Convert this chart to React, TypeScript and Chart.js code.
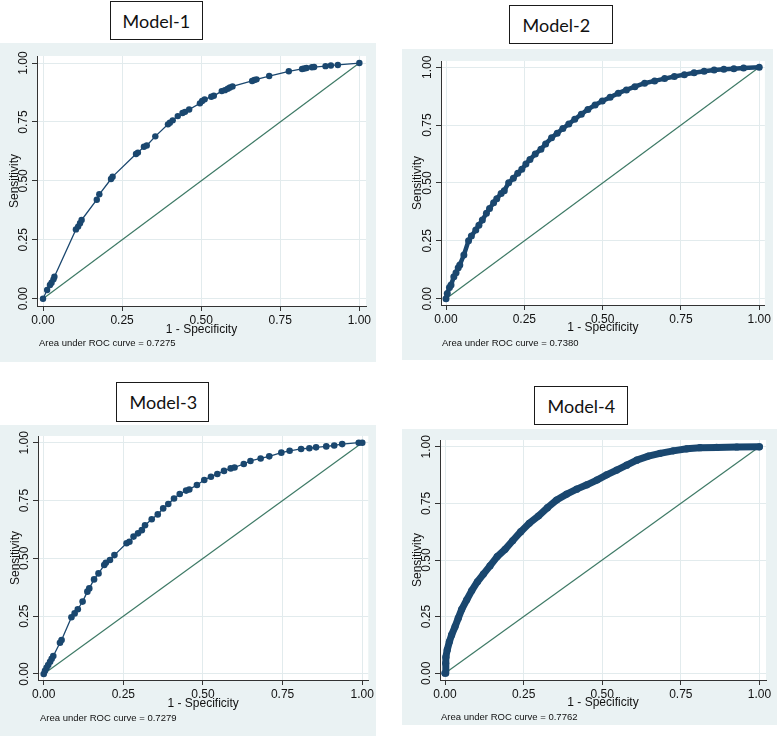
import React, { useEffect, useRef } from "react";
import { Chart, registerables } from "chart.js";
Chart.register(...registerables);

// ---------- data ----------
const TICK_VALUES = [0, 0.25, 0.5, 0.75, 1];
const X_AXIS_TITLE = "1 - Specificity";
const Y_AXIS_TITLE = "Sensitivity";
const MODEL_NAMES = ["Model-1", "Model-2", "Model-3", "Model-4"];
const AUC_VALUES = ["0.7275", "0.7380", "0.7279", "0.7762"];
const DIAG_X = [0, 1];
const DIAG_Y = [0, 1];

const M1_FPR = [0, 0.013, 0.022, 0.027, 0.033, 0.036, 0.104, 0.111, 0.117, 0.122, 0.17, 0.178, 0.215, 0.22, 0.294, 0.3, 0.319, 0.328, 0.355, 0.395, 0.401, 0.41, 0.426, 0.441, 0.449, 0.462, 0.496, 0.503, 0.511, 0.532, 0.54, 0.565, 0.575, 0.584, 0.591, 0.599, 0.661, 0.668, 0.675, 0.715, 0.777, 0.819, 0.826, 0.833, 0.85, 0.857, 0.893, 0.91, 0.932, 1];
const M1_TPR = [0, 0.037, 0.058, 0.068, 0.082, 0.093, 0.294, 0.306, 0.32, 0.334, 0.42, 0.443, 0.508, 0.518, 0.614, 0.62, 0.645, 0.65, 0.689, 0.74, 0.747, 0.757, 0.775, 0.788, 0.793, 0.803, 0.829, 0.839, 0.846, 0.857, 0.861, 0.881, 0.885, 0.891, 0.896, 0.901, 0.924, 0.928, 0.931, 0.945, 0.965, 0.975, 0.977, 0.979, 0.982, 0.983, 0.987, 0.99, 0.992, 1];

const M2_FPR = [0, 0.004, 0.011, 0.016, 0.025, 0.032, 0.039, 0.044, 0.057, 0.072, 0.081, 0.095, 0.105, 0.116, 0.129, 0.139, 0.152, 0.162, 0.176, 0.186, 0.2, 0.215, 0.229, 0.242, 0.255, 0.268, 0.285, 0.303, 0.318, 0.337, 0.355, 0.373, 0.392, 0.411, 0.432, 0.453, 0.476, 0.499, 0.524, 0.55, 0.576, 0.603, 0.634, 0.666, 0.698, 0.729, 0.761, 0.792, 0.824, 0.856, 0.887, 0.919, 0.95, 1];
const M2_TPR = [0, 0.023, 0.049, 0.059, 0.095, 0.112, 0.134, 0.146, 0.189, 0.251, 0.271, 0.297, 0.318, 0.34, 0.369, 0.39, 0.415, 0.432, 0.455, 0.467, 0.501, 0.52, 0.542, 0.559, 0.582, 0.602, 0.625, 0.646, 0.669, 0.695, 0.715, 0.735, 0.755, 0.775, 0.797, 0.818, 0.837, 0.854, 0.87, 0.888, 0.902, 0.916, 0.931, 0.941, 0.951, 0.96, 0.968, 0.976, 0.983, 0.988, 0.991, 0.994, 0.997, 1];

const M3_FPR = [0, 0.004, 0.009, 0.014, 0.02, 0.025, 0.03, 0.051, 0.056, 0.087, 0.097, 0.107, 0.122, 0.137, 0.143, 0.158, 0.172, 0.19, 0.195, 0.208, 0.222, 0.26, 0.269, 0.282, 0.296, 0.308, 0.318, 0.339, 0.358, 0.375, 0.391, 0.409, 0.427, 0.447, 0.457, 0.481, 0.504, 0.525, 0.545, 0.566, 0.587, 0.599, 0.628, 0.649, 0.681, 0.708, 0.746, 0.772, 0.808, 0.834, 0.855, 0.887, 0.912, 0.937, 0.989, 1];
const M3_TPR = [0, 0.014, 0.027, 0.039, 0.053, 0.066, 0.078, 0.135, 0.147, 0.245, 0.262, 0.28, 0.313, 0.356, 0.37, 0.409, 0.435, 0.471, 0.481, 0.493, 0.514, 0.565, 0.572, 0.594, 0.608, 0.622, 0.643, 0.669, 0.69, 0.716, 0.735, 0.759, 0.778, 0.793, 0.798, 0.817, 0.839, 0.853, 0.865, 0.878, 0.889, 0.893, 0.908, 0.921, 0.932, 0.941, 0.957, 0.965, 0.973, 0.976, 0.98, 0.984, 0.988, 0.994, 1, 1];

const M4_FPR = [0, 0.002, 0.003, 0.007, 0.014, 0.021, 0.032, 0.042, 0.053, 0.069, 0.085, 0.103, 0.122, 0.143, 0.166, 0.191, 0.215, 0.241, 0.268, 0.297, 0.326, 0.355, 0.387, 0.419, 0.451, 0.483, 0.514, 0.546, 0.578, 0.61, 0.647, 0.684, 0.726, 0.769, 0.811, 0.864, 0.928, 1];
const M4_TPR = [0, 0.044, 0.071, 0.103, 0.14, 0.169, 0.206, 0.243, 0.282, 0.324, 0.365, 0.404, 0.438, 0.474, 0.515, 0.547, 0.585, 0.625, 0.662, 0.694, 0.731, 0.765, 0.791, 0.813, 0.832, 0.853, 0.876, 0.897, 0.919, 0.941, 0.959, 0.971, 0.982, 0.991, 0.996, 0.997, 0.999, 1];

const SERIES_FPR = [M1_FPR, M2_FPR, M3_FPR, M4_FPR];
const SERIES_TPR = [M1_TPR, M2_TPR, M3_TPR, M4_TPR];

// ---------- styles / layout ----------
const FONT = "'Liberation Sans Narrow', 'Liberation Sans', Arial, sans-serif";
const PANEL_BG = "#EAF2F3";
const GRID = "#E2EBED";
const AXIS = "#333333";
const CURVE = "#1A476F";
const DIAG = "#3E7A66";

type Panel = {
  left: number; top: number; width: number; height: number;
  plotLeft: number; plotTop: number; padRight: number; xScaleH: number;
  xMin: number; xMax: number; yMin: number; yMax: number;
  xTitlePad: number; yTitlePad: number;
  pointR: number; lineW: number;
  box: { left: number; top: number; width: number; height: number; textLeft: number };
  note: { left: number; cy: number };
};

const PANELS: Panel[] = [
  {
    left: 0, top: 43, width: 376, height: 319,
    plotLeft: 37, plotTop: 13, padRight: 10, xScaleH: 56,
    xMin: -0.019, xMax: 1.021, yMin: -0.031, yMax: 1.03,
    xTitlePad: 24.8, yTitlePad: 7.8, pointR: 3.2, lineW: 1.3,
    box: { left: 110, top: 1, width: 93, height: 39, textLeft: 13 },
    note: { left: 39, cy: 343 },
  },
  {
    left: 402, top: 49, width: 371, height: 311,
    plotLeft: 39, plotTop: 12, padRight: 5, xScaleH: 55,
    xMin: -0.016, xMax: 1.018, yMin: -0.027, yMax: 1.027,
    xTitlePad: 24.8, yTitlePad: 8.8, pointR: 3.5, lineW: 4.5,
    box: { left: 509, top: 5, width: 104, height: 39, textLeft: 14 },
    note: { left: 442, cy: 343 },
  },
  {
    left: 0, top: 425, width: 376, height: 311,
    plotLeft: 38, plotTop: 11, padRight: 3, xScaleH: 56,
    xMin: -0.018, xMax: 1.019, yMin: -0.026, yMax: 1.029,
    xTitlePad: 24.8, yTitlePad: 8.8, pointR: 3.3, lineW: 1.3,
    box: { left: 116, top: 382, width: 93, height: 40, textLeft: 14 },
    note: { left: 40, cy: 718 },
  },
  {
    left: 402, top: 429, width: 375, height: 296,
    plotLeft: 38, plotTop: 11, padRight: 11, xScaleH: 45,
    xMin: -0.016, xMax: 1.021, yMin: -0.03, yMax: 1.03,
    xTitlePad: 14.8, yTitlePad: 8.8, pointR: 3.6, lineW: 7,
    box: { left: 534, top: 386, width: 94, height: 39, textLeft: 14 },
    note: { left: 441, cy: 717 },
  },
];

const decoPlugin = {
  id: "stataDeco",
  beforeDraw(chart: any) {
    const { ctx, chartArea } = chart;
    ctx.save();
    ctx.fillStyle = PANEL_BG;
    ctx.fillRect(0, 0, chart.width, chart.height);
    ctx.fillStyle = "#ffffff";
    ctx.fillRect(chartArea.left, chartArea.top, chartArea.right - chartArea.left, chartArea.bottom - chartArea.top);
    ctx.restore();
  },
  afterDraw(chart: any) {
    const { ctx } = chart;
    const ys = chart.scales.y;
    ctx.save();
    ctx.font = `12px ${FONT}`;
    ctx.fillStyle = "#111111";
    ctx.textAlign = "center";
    ctx.textBaseline = "middle";
    ys.ticks.forEach((t: any) => {
      const py = ys.getPixelForValue(t.value);
      ctx.save();
      ctx.translate(chart.chartArea.left - 13, py);
      ctx.rotate(-Math.PI / 2);
      ctx.fillText(Number(t.value).toFixed(2), 0, 0);
      ctx.restore();
    });
    ctx.restore();
  },
};

function RocPanel({ idx }: { idx: number }) {
  const ref = useRef<HTMLCanvasElement | null>(null);
  const p = PANELS[idx];
  useEffect(() => {
    if (!ref.current) return;
    const fpr = SERIES_FPR[idx];
    const tpr = SERIES_TPR[idx];
    const curve = fpr.map((x, i) => ({ x, y: tpr[i] }));
    const diag = DIAG_X.map((x, i) => ({ x, y: DIAG_Y[i] }));
    const chart = new Chart(ref.current, {
      type: "line",
      data: {
        datasets: [
          {
            data: curve,
            borderColor: CURVE,
            backgroundColor: CURVE,
            borderWidth: p.lineW,
            pointRadius: p.pointR,
            pointBorderWidth: 0,
            pointBackgroundColor: CURVE,
            borderCapStyle: "round",
            borderJoinStyle: "round",
            tension: 0,
            order: 0,
          },
          {
            data: diag,
            borderColor: DIAG,
            borderWidth: 1.2,
            pointRadius: 0,
            tension: 0,
            order: 1,
          },
        ],
      },
      options: {
        animation: false,
        responsive: false,
        maintainAspectRatio: false,
        devicePixelRatio: 1,
        events: [],
        layout: { padding: { left: 0, top: p.plotTop, right: p.padRight, bottom: 0 } },
        plugins: { legend: { display: false }, tooltip: { enabled: false }, title: { display: false } },
        scales: {
          x: {
            type: "linear",
            min: p.xMin,
            max: p.xMax,
            afterBuildTicks: (s: any) => { s.ticks = TICK_VALUES.map((v) => ({ value: v })); },
            afterFit: (s: any) => { s.height = p.xScaleH; },
            grid: { color: GRID, tickColor: AXIS, tickLength: 5, lineWidth: 1 },
            border: { color: AXIS, width: 1 },
            ticks: {
              callback: (v: any) => Number(v).toFixed(2),
              padding: 2,
              color: "#111111",
              font: { family: FONT, size: 12 },
              maxRotation: 0,
              minRotation: 0,
              autoSkip: false,
            },
            title: {
              display: true,
              text: X_AXIS_TITLE,
              color: "#111111",
              font: { family: FONT, size: 12 },
              padding: { top: 0, bottom: p.xTitlePad },
            },
          },
          y: {
            type: "linear",
            min: p.yMin,
            max: p.yMax,
            afterBuildTicks: (s: any) => { s.ticks = TICK_VALUES.map((v) => ({ value: v })); },
            afterFit: (s: any) => { s.width = p.plotLeft; },
            grid: { color: GRID, tickColor: AXIS, tickLength: 5, lineWidth: 1 },
            border: { color: AXIS, width: 1 },
            ticks: { display: false },
            title: {
              display: true,
              text: Y_AXIS_TITLE,
              color: "#111111",
              font: { family: FONT, size: 12 },
              padding: { top: p.yTitlePad, bottom: 0 },
            },
          },
        },
      },
      plugins: [decoPlugin],
    } as any);
    return () => chart.destroy();
  }, [idx]);

  return (
    <>
      <div
        style={{
          position: "absolute", left: p.left, top: p.top, width: p.width, height: p.height,
          background: PANEL_BG,
        }}
      >
        <canvas ref={ref} width={p.width} height={p.height} style={{ width: p.width, height: p.height, display: "block" }} />
      </div>
      <div
        style={{
          position: "absolute", left: p.box.left, top: p.box.top, width: p.box.width, height: p.box.height,
          boxSizing: "border-box", border: "1.5px solid #1a1a1a", background: "#ffffff",
          display: "flex", alignItems: "center", paddingLeft: p.box.textLeft - 1.5,
          fontFamily: "Lato, 'Open Sans', sans-serif", fontSize: 18, color: "#111111",
        }}
      >
        {MODEL_NAMES[idx]}
      </div>
      <div
        style={{
          position: "absolute", left: p.note.left, top: p.note.cy - 6, height: 12, lineHeight: "12px",
          fontFamily: FONT, fontSize: 9.5, color: "#111111", whiteSpace: "nowrap",
        }}
      >
        {`Area under ROC curve = ${AUC_VALUES[idx]}`}
      </div>
    </>
  );
}

export default function App() {
  return (
    <div style={{ position: "absolute", left: 0, top: 0, width: 778, height: 736, background: "#ffffff", overflow: "hidden" }}>
      {PANELS.map((_, i) => (
        <RocPanel key={i} idx={i} />
      ))}
    </div>
  );
}
